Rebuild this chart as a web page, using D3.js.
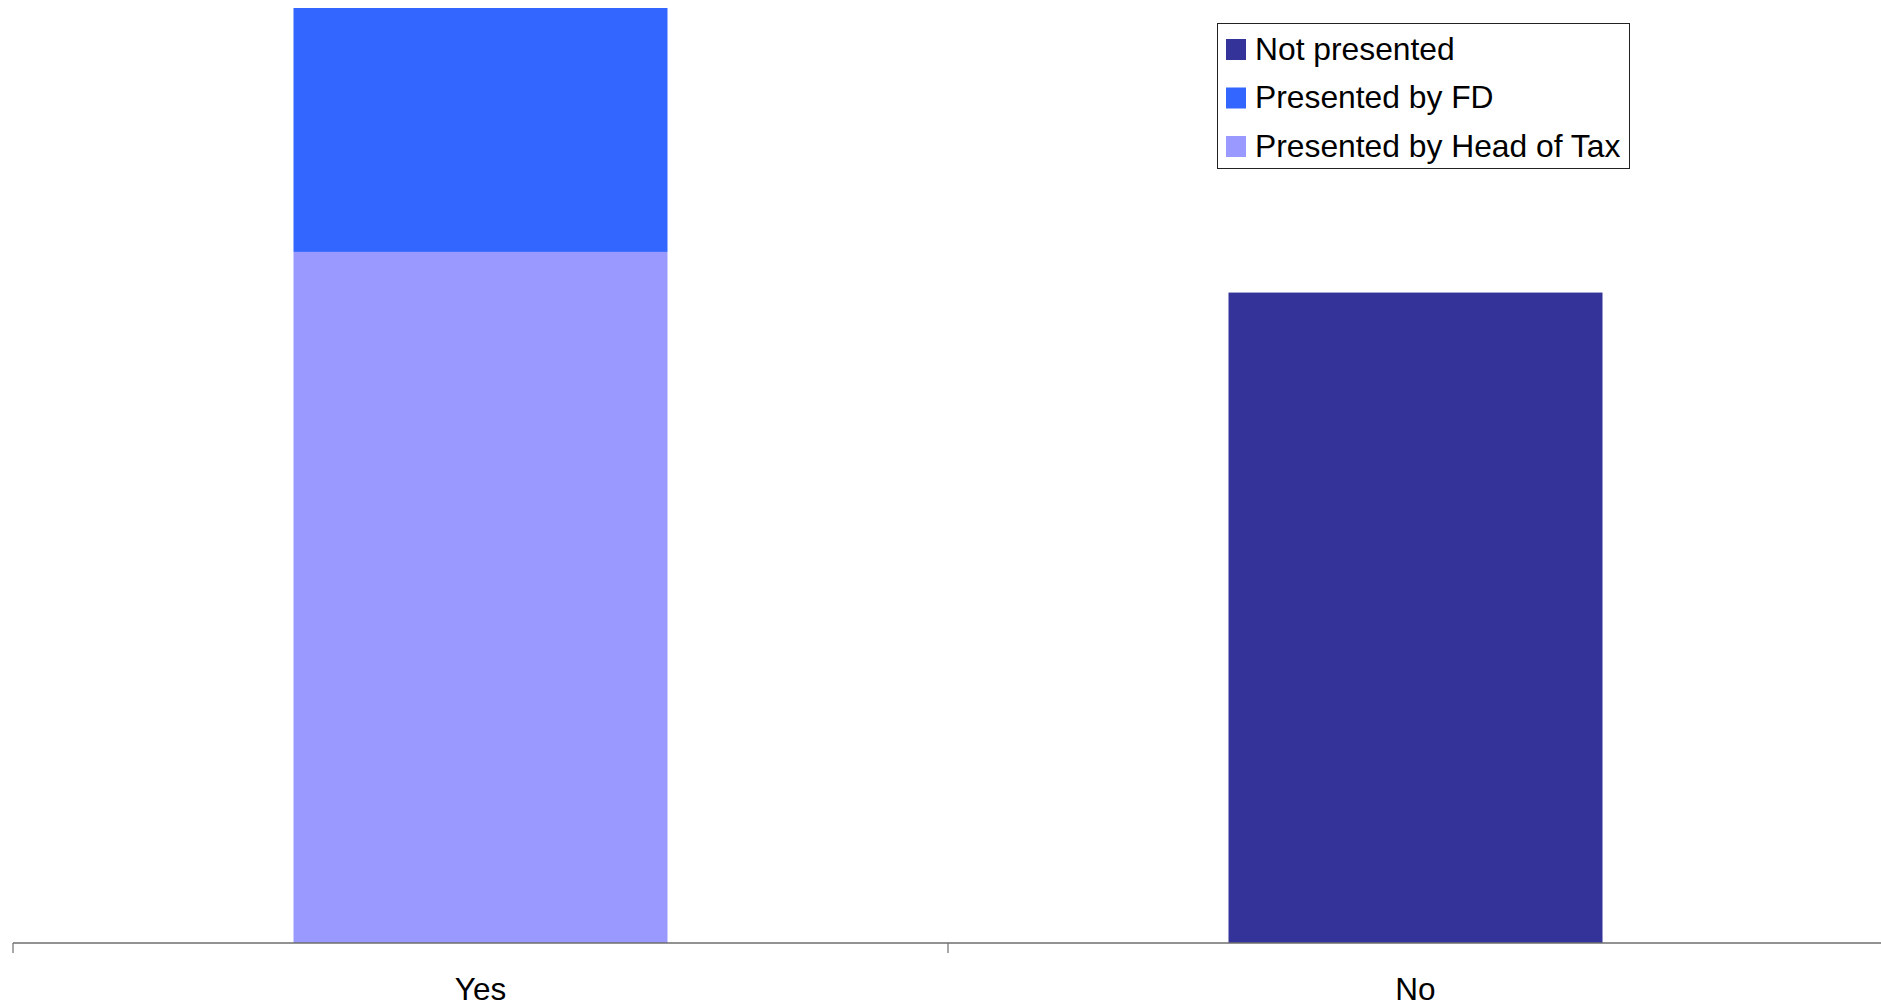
<!DOCTYPE html>
<html>
<head>
<meta charset="utf-8">
<script src="https://cdn.jsdelivr.net/npm/d3@7"></script>
<style>
html,body{margin:0;padding:0;background:#fff;}
svg{display:block;}
text{font-family:"Liberation Sans",Arial,sans-serif;fill:#000;}
</style>
</head>
<body>
<svg id="chart" width="1881" height="1008"></svg>
<script>
// Data
const categories = ["Yes", "No"];
const seriesNames = ["Not presented", "Presented by FD", "Presented by Head of Tax"];
const notPresented = [0, 16];
const presentedByFD = [6, 0];
const presentedByHeadOfTax = [17, 0];
const seriesColors = ["#333399", "#3366FF", "#9999FF"];

const W = 1881, H = 1008;
const svg = d3.select("#chart");

const rows = categories.map((c, i) => ({
  cat: c,
  "Presented by Head of Tax": presentedByHeadOfTax[i],
  "Presented by FD": presentedByFD[i],
  "Not presented": notPresented[i]
}));

// stack order: Head of Tax at bottom, then FD, then Not presented
const stackKeys = ["Presented by Head of Tax", "Presented by FD", "Not presented"];
const stacked = d3.stack().keys(stackKeys)(rows);

const color = d3.scaleOrdinal().domain(seriesNames).range(seriesColors);

const x = d3.scaleBand().domain(categories).range([13, 1883]).padding(0);
const y = d3.scaleLinear().domain([0, 23]).range([943, 8]);
const barFrac = 0.4;

const g = svg.append("g");
stacked.forEach(layer => {
  g.selectAll(null).data(layer.filter(d => d[1] - d[0] > 0)).enter().append("rect")
    .attr("x", d => x(d.data.cat) + x.bandwidth() * (1 - barFrac) / 2)
    .attr("width", x.bandwidth() * barFrac)
    .attr("y", d => y(d[1]))
    .attr("height", d => y(d[0]) - y(d[1]))
    .attr("fill", color(layer.key));
});

// x axis
const axisG = svg.append("g");
axisG.append("line")
  .attr("x1", x.range()[0]).attr("x2", W)
  .attr("y1", y(0)).attr("y2", y(0))
  .attr("stroke", "#6e6e6e").attr("stroke-width", 1.5);
const tickPositions = categories.map(c => x(c)).concat([x.range()[1]]);
axisG.selectAll(".tick").data(tickPositions).enter().append("line")
  .attr("x1", d => d).attr("x2", d => d)
  .attr("y1", y(0)).attr("y2", y(0) + 10)
  .attr("stroke", "#6e6e6e").attr("stroke-width", 1.2);
axisG.selectAll(".lbl").data(categories).enter().append("text")
  .attr("x", d => x(d) + x.bandwidth() / 2)
  .attr("y", 1000)
  .attr("text-anchor", "middle")
  .attr("font-size", 31.5)
  .text(d => d);

// legend
const lg = svg.append("g");
lg.append("rect")
  .attr("x", 1217.5).attr("y", 23.5).attr("width", 412).attr("height", 145)
  .attr("fill", "#fff").attr("stroke", "#222").attr("stroke-width", 1);
seriesNames.forEach((name, i) => {
  const cy = 49.5 + i * 48.5;
  lg.append("rect").attr("x", 1226).attr("y", cy - 10.5).attr("width", 20).attr("height", 21)
    .attr("fill", color(name));
  lg.append("text").attr("x", 1255).attr("y", cy + 10).attr("font-size", 31.8).text(name);
});
</script>
</body>
</html>
